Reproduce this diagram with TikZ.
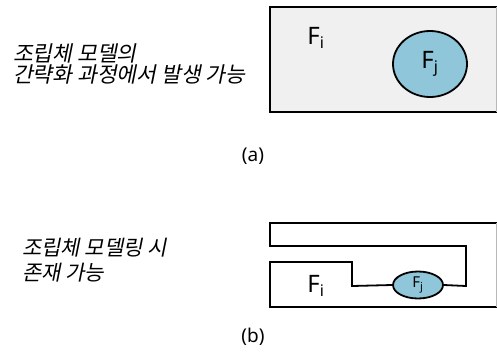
\documentclass[tikz,border=0pt]{standalone}
\usepackage{fontspec}
\setmainfont{Noto Sans}
\newfontfamily\kr[FakeSlant=0.2]{Noto Sans CJK KR}
\usetikzlibrary{shapes.geometric}
\definecolor{boxgray}{HTML}{F0F0F0}
\definecolor{fjblue}{HTML}{8FC6DA}
\definecolor{edgegray}{HTML}{B8B8B8}
\tikzset{
  wall/.style={line width=1.8pt, line join=miter},
  krtext/.style={anchor=west, inner sep=0pt, font=\kr\fontsize{21.5}{22}\selectfont},
  krtextb/.style={anchor=west, inner sep=0pt, font=\kr\fontsize{21}{22}\selectfont},
  flabel/.style={inner sep=0pt, font=\fontsize{24}{26}\selectfont},
  captext/.style={inner sep=0pt, font=\fontsize{19}{20}\selectfont},
  fell/.style={ellipse, draw, fill=fjblue, line width=1.8pt, inner sep=0pt}
}
\begin{document}
\begin{tikzpicture}[x=1pt,y=-1pt]
\useasboundingbox (0,0) rectangle (497,351);
% (a)
\fill[boxgray] (270,7) rectangle (496,112);
\draw[wall] (497,7) -- (270,7) -- (270,112) -- (497,112);
\draw[edgegray, line width=0.8pt] (496,7) -- (496,112);
\node[flabel] (fia) at (316,38) {F\textsubscript{\fontsize{16}{16}\selectfont i}};
\node[fell, minimum width=74pt, minimum height=66pt] (fja) at (430,64) {};
\node[flabel] (fjla) at (fja) {F\textsubscript{\fontsize{16}{16}\selectfont j}};
\node[krtext] (ta1) at (13,53) {조립체 모델의};
\node[krtext] (ta2) at (13,74) {간략화 과정에서 발생 가능};
\node[captext] (capa) at (253,156) {(a)};
% (b)
\node[fell, minimum width=50pt, minimum height=27pt] (fjb) at (418,285) {};
\node[inner sep=0pt, font=\fontsize{15}{16}\selectfont] (fjlb) at (fjb) {F\textsubscript{\fontsize{11}{11}\selectfont j}};
\coordinate (b1) at (497,223);
\coordinate (b2) at (497,307);
\draw[wall] (b1) -- (270,223) -- (270,246) -- (466,246) -- (466,286) -- (fjb.east);
\draw[wall] (fjb.west) -- (352,286) -- (352,262) -- (270,262) -- (270,307) -- (b2);
\draw[edgegray, line width=0.8pt] (496,223) -- (496,307);
\node[flabel] (fib) at (316,286) {F\textsubscript{\fontsize{16}{16}\selectfont i}};
\node[krtextb] (tb1) at (22,248) {조립체 모델링 시};
\node[krtextb] (tb2) at (22,273) {존재 가능};
\node[captext] (capb) at (253,337) {(b)};
\end{tikzpicture}
\end{document}
